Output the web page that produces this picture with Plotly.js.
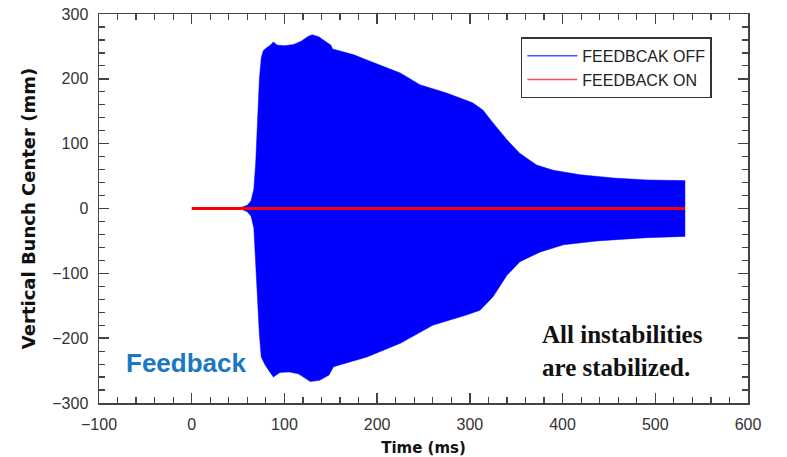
<!DOCTYPE html>
<html>
<head>
<meta charset="utf-8">
<script src="https://cdn.plot.ly/plotly-3.0.1.min.js"></script>
<style>html,body{margin:0;padding:0;background:#fff;}#chart{width:787px;height:457px;}</style>
</head>
<body>
<div id="chart"></div>
<script>
// Feedback OFF envelope (upper and lower edges of the oscillation band)
var upperT = [50, 55, 60, 64, 67, 69, 71, 73, 75, 77, 80, 85, 88, 92, 100, 110, 118, 125, 130, 137, 145, 150, 152, 175, 189, 203, 225, 246, 275, 303, 314, 325, 340, 354, 372, 390, 419, 455, 491, 532];
var upperV = [0, 2, 5, 12, 30, 70, 140, 200, 232, 243, 247, 252, 257, 252, 251, 253, 258, 265, 268, 265, 257, 252, 246, 237, 229, 221, 209, 191, 178, 163, 152, 132, 106, 85, 67, 59, 52, 47, 44, 43];
var lowerT = [50, 55, 60, 64, 67, 69, 71, 73, 75, 79, 88, 95, 105, 115, 128, 138, 148, 151, 153, 189, 225, 260, 297, 311, 325, 340, 354, 376, 401, 437, 491, 532];
var lowerV = [0, -2, -5, -12, -30, -70, -140, -195, -229, -241, -260, -253, -252, -255, -267, -265, -257, -250, -244, -229, -208, -180, -164, -157, -136, -103, -82, -67, -56, -50, -45, -43];
// Feedback ON
var onT = [0, 100, 200, 300, 400, 500, 532];
var onV = [0, 0, 0, 0, 0, 0, 0];
// Axis ticks
var xTicks = [-100, 0, 100, 200, 300, 400, 500, 600];
var yTicks = [-300, -200, -100, 0, 100, 200, 300];

var polyX = upperT.concat(lowerT.slice().reverse());
var polyY = upperV.concat(lowerV.slice().reverse());

var traces = [
  {x: polyX, y: polyY, type: 'scatter', mode: 'lines', fill: 'toself', fillcolor: '#0000ff',
   line: {color: '#0000ff', width: 0.5}, showlegend: false, hoverinfo: 'skip'},
  {x: onT, y: onV, type: 'scatter', mode: 'lines', line: {color: '#ff0000', width: 3}, showlegend: false},
  {x: [null], y: [null], type: 'scatter', mode: 'lines', name: 'FEEDBCAK OFF', line: {color: '#5050ff', width: 1.5}},
  {x: [null], y: [null], type: 'scatter', mode: 'lines', name: 'FEEDBACK ON', line: {color: '#ff5050', width: 1.5}}
];

var axisCommon = {
  showline: true, linecolor: '#444', linewidth: 1.5, mirror: 'allticks',
  ticks: 'inside', ticklen: 10, tickwidth: 1.5, tickcolor: '#444',
  showgrid: false, zeroline: false,
  tickfont: {family: 'Liberation Sans, Arial, sans-serif', size: 16, color: '#333'}
};

var layout = {
  width: 787, height: 457,
  margin: {l: 99, r: 39, t: 14, b: 54, pad: 0},
  paper_bgcolor: '#fff', plot_bgcolor: '#fff',
  font: {family: 'Liberation Sans, Arial, sans-serif'},
  xaxis: Object.assign({}, axisCommon, {
    range: [-100, 600], tickvals: xTicks,
    minor: {dtick: 20, tick0: 0, ticks: 'inside', ticklen: 6, tickwidth: 1.2, tickcolor: '#444'},
    ticklabelstandoff: 6,
    title: {text: 'Time (ms)', font: {family: 'DejaVu Sans, sans-serif', size: 15, color: '#111', weight: 'bold'}, standoff: 13}
  }),
  yaxis: Object.assign({}, axisCommon, {
    range: [-300, 300], tickvals: yTicks,
    minor: {dtick: 20, tick0: 0, ticks: 'inside', ticklen: 6, tickwidth: 1.2, tickcolor: '#444'},
    ticklabelstandoff: 6,
    title: {text: 'Vertical Bunch Center (mm)', font: {family: 'DejaVu Sans, sans-serif', size: 18, color: '#111', weight: 'bold'}, standoff: 12}
  }),
  legend: {
    x: 0.65, y: 0.94, xanchor: 'left', yanchor: 'top',
    bgcolor: '#fff', bordercolor: '#333', borderwidth: 1.5,
    font: {family: 'Liberation Sans, Arial, sans-serif', size: 16, color: '#222'},
    itemwidth: 50, tracegroupgap: 0
  },
  annotations: [
    {xref: 'paper', yref: 'paper', x: (186 - 99) / 649, y: (403 - 363) / 389, xanchor: 'center', yanchor: 'middle',
     text: 'Feedback', showarrow: false,
     font: {family: 'Liberation Sans, Arial, sans-serif', size: 26, color: '#1a78c2', weight: 'bold'}},
    {xref: 'paper', yref: 'paper', x: (622 - 99) / 649, y: (403 - 351) / 389, xanchor: 'center', yanchor: 'middle',
     text: 'All instabilities<br>are stabilized.', showarrow: false, align: 'left',
     font: {family: 'Liberation Serif, Times New Roman, serif', size: 25, color: '#111', weight: 'bold'}}
  ]
};

Plotly.newPlot('chart', traces, layout, {displayModeBar: false, staticPlot: true});
</script>
</body>
</html>
